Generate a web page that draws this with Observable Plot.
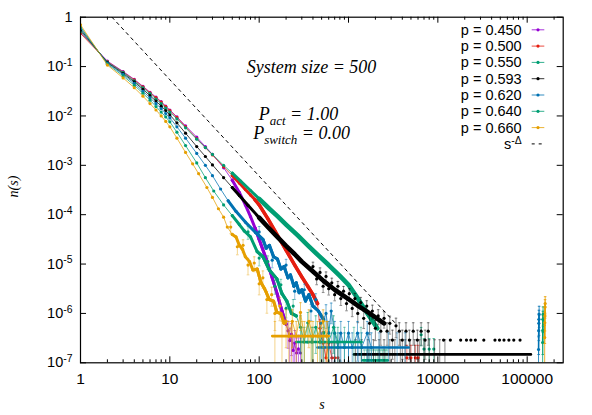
<!DOCTYPE html>
<html><head><meta charset="utf-8">
<script src="https://cdn.jsdelivr.net/npm/d3@7"></script>
<script src="https://cdn.jsdelivr.net/npm/@observablehq/plot@0.6"></script>
<style>body{margin:0;background:#fff;} #chart{width:592px;height:415px;}</style>
</head><body><div id="chart"></div>
<script>
// ---------- series labels & colours ----------
const labels = ["p = 0.450", "p = 0.500", "p = 0.550", "p = 0.593", "p = 0.620", "p = 0.640", "p = 0.660"];
const colors = ["#9400d3", "#e51e10", "#009e73", "#000000", "#0072b2", "#009e73", "#e69f00"];

// ---------- p = 0.450 ----------
const p450_s = [1,2,3,4,5,6,7,8,9,10,12,15,20,25,30,40,50,60,70,80,90,100,120,140,160,180,200];
const p450_n = [0.50,0.129,0.0794,0.055,0.0398,0.0302,0.024,0.0195,0.0158,0.0132,0.00955,0.00631,0.00372,0.0024,0.00166,8.91e-4,5.01e-4,2.82e-4,1.58e-4,9.12e-5,5.37e-5,3.16e-5,1.26e-5,5.25e-6,2.40e-6,1.12e-6,6.03e-7];
const p450_ts = [210,220,230,240,250,262,275,290];
const p450_tn = [4.47e-7,2.82e-7,3.80e-7,1.78e-7,2.51e-7,1.58e-7,1.91e-7,1.58e-7];
const p450_te = [2.5e-7,2.2e-7,2.4e-7,1.6e-7,2.0e-7,1.6e-7,1.7e-7,1.6e-7];

// ---------- p = 0.500 ----------
const p500_s = [1,2,3,4,5,6,7,8,9,10,12,15,20,25,30,40,50,60,70,80,90,100,125,150,200,250,300,350,400,450];
const p500_n = [0.47,0.126,0.0776,0.0537,0.0389,0.0295,0.0234,0.0191,0.0155,0.0129,0.00933,0.00603,0.00347,0.00229,0.00162,9.33e-4,6.17e-4,4.37e-4,3.24e-4,2.51e-4,2.0e-4,1.58e-4,8.32e-5,4.68e-5,1.91e-5,9.55e-6,5.50e-6,3.55e-6,2.40e-6,1.58e-6];
const p500_ts = [480,520,560,600,650,700,760];
const p500_tn = [5.0e-7,2.51e-7,1.26e-7,2.51e-7,1.26e-7,1.26e-7,1.26e-7];
const p500_te = [2.5e-7,1.8e-7,1.26e-7,1.8e-7,1.26e-7,1.26e-7,1.26e-7];
const p500_is = [4500,5000,5600,6000];
const p500_in = [1.26e-7,1.26e-7,1.26e-7,1.26e-7];
const p500_ie = [1.0e-7,1.0e-7,1.0e-7,1.0e-7];

// ---------- p = 0.550 ----------
const p550_s = [1,2,3,4,5,6,7,8,9,10,12,15,20,25,30,40,50,62,80,100,130,160,200,270,350,450,600,800,1000,1250,1500,1800,2100];
const p550_n = [0.52,0.123,0.0759,0.0513,0.0372,0.0282,0.0219,0.0178,0.0145,0.0120,0.00871,0.00575,0.00339,0.00229,0.00166,1.0e-3,6.92e-4,4.79e-4,3.09e-4,2.09e-4,1.32e-4,9.33e-5,6.31e-5,3.80e-5,2.40e-5,1.55e-5,9.55e-6,5.75e-6,3.80e-6,2.09e-6,1.26e-6,7.59e-7,5.01e-7];
const p550_floor = [1450, 2750];
const p550_floorN = 1.12e-7;
const p550_floorBars = [1500,1600,1700,1800,1900,2000,2100,2200,2300,2400,2500,2600,2700];
const p550_floorErr = 0.7e-7;
const p550_is = [6500,7000,8000,9000];
const p550_in = [3.7e-7,1.9e-7,1.9e-7,1.9e-7];
const p550_ie = [1.5e-7,1.2e-7,1.2e-7,1.2e-7];

// ---------- p = 0.593 ----------
const p593_s = [1,2,3,4,5,6,7,8,9,10,12,15,20,25,30,40,50,60,75,100,125,150,200,250,300,400,525,700,1000,1260,1600,2000,2500];
const p593_n = [0.56,0.120,0.0724,0.0490,0.0347,0.0257,0.020,0.0158,0.0129,0.0105,0.00724,0.00447,0.0024,0.00151,0.00102,5.62e-4,3.55e-4,2.45e-4,1.55e-4,8.71e-5,5.62e-5,3.98e-5,2.34e-5,1.58e-5,1.12e-5,7.08e-6,4.57e-6,3.02e-6,1.95e-6,1.45e-6,1.1e-6,8.3e-7,6.3e-7];
const p593_ss = [400,440,480,520,560,600,650,700,760,820,880,950,1020,1100,1180,1270,1370,1480,1600,1720,1850,2000,2150,2300,2500,2700,2900,3100,3400,3700,4000,4400,4800,5300,5900,6500,7200,7800];
const p593_sn = [8.91e-6,5.01e-6,6.76e-6,3.55e-6,5.62e-6,3.16e-6,4.17e-6,2.40e-6,3.55e-6,2.0e-6,2.82e-6,1.58e-6,2.51e-6,1.26e-6,2.0e-6,1.0e-6,1.66e-6,7.94e-7,1.41e-6,6.31e-7,1.12e-6,5.01e-7,8.91e-7,4.37e-7,7.94e-7,4.37e-7,6.31e-7,2.88e-7,5.62e-7,4.37e-7,2.88e-7,4.37e-7,2.88e-7,4.37e-7,2.88e-7,4.37e-7,2.88e-7,4.37e-7];
const p593_se = [2e-6,1.2e-6,1.6e-6,9e-7,1.3e-6,8e-7,1e-6,6e-7,9e-7,5.5e-7,7e-7,4.5e-7,6.5e-7,4e-7,5.5e-7,3.5e-7,4.5e-7,3e-7,4e-7,2.6e-7,3.5e-7,2.2e-7,3e-7,2.1e-7,2.9e-7,2.1e-7,2.5e-7,1.7e-7,2.4e-7,2.1e-7,1.7e-7,2.1e-7,1.7e-7,2.1e-7,1.7e-7,2.1e-7,1.7e-7,2.1e-7];
const p593_floor = [1150, 110000];
const p593_floorN = 1.48e-7;
const p593_floorBars = [1200,1400,1650,1900,2200,2500,2900,3300,3800,4300,4900,5500,6200,7000,8000,9200,10500,12000];
const p593_floorErr = 1.45e-7;
const p593_is = [11600,13800,18000,20900,23400,26300,32700,43600,49000,55000,62400,70800,83200];
const p593_in = [2.88e-7,2.88e-7,2.88e-7,2.88e-7,2.88e-7,2.88e-7,2.88e-7,2.88e-7,2.88e-7,2.88e-7,2.88e-7,2.88e-7,2.88e-7];

// ---------- p = 0.620 ----------
const p620_s = [1,2,3,4,5,6,7,8,9,10,12,15,20,25,30,37,45,55,70,91,110,120,130,145,160,175,190,210,224,245,260,280,300,330,360,400,460,525];
const p620_n = [0.60,0.117,0.0692,0.0457,0.0316,0.0234,0.0178,0.0141,0.0112,0.00912,0.00603,0.00355,0.00174,0.0010,6.17e-4,3.31e-4,1.91e-4,1.17e-4,7.08e-5,4.37e-5,3.16e-5,2.09e-5,2.40e-5,1.41e-5,1.26e-5,7.94e-6,8.91e-6,5.25e-6,6.03e-6,3.55e-6,4.17e-6,2.63e-6,3.02e-6,1.78e-6,2.40e-6,1.41e-6,1.12e-6,7.59e-7];
const p620_ss = [100,140,200,250,320,380,430,490];
const p620_sn = [4.47e-5,1.2e-5,9.55e-6,2.82e-6,3.02e-6,1.12e-6,1.91e-6,6.31e-7];
const p620_se = [1.3e-5,3.6e-6,2.9e-6,9e-7,9e-7,4e-7,6e-7,2.5e-7];
const p620_ts = [560,600,640,700,760,820,900,1000,1100,1260,1400,1620,1800];
const p620_tn = [1.0e-6,3.98e-7,1.12e-6,3.98e-7,2.04e-7,3.98e-7,2.04e-7,3.98e-7,2.04e-7,3.98e-7,2.04e-7,3.98e-7,2.04e-7];
const p620_te = [5e-7,2.9e-7,5e-7,2.9e-7,2.0e-7,2.9e-7,2.0e-7,2.9e-7,2.0e-7,2.9e-7,2.0e-7,2.9e-7,2.0e-7];
const p620_floor = [450, 4700];
const p620_floorN = 2.04e-7;
const p620_floorBars = [500,650,800,1000,1300,1700,2200,2800,3500,4300];
const p620_floorErr = 2.0e-7;
const p620_gs = [134000,134500,135000,135500,136000];
const p620_gn = [1.86e-7,4.47e-7,6.31e-7,7.59e-7,9.55e-7];
const p620_ge = [1.5e-7,3e-7,3.5e-7,4e-7,4.4e-7];

// ---------- p = 0.640 ----------
const p640_s = [1,2,3,4,5,6,7,8,9,10,12,15,20,25,31,40,50,60,68,80,95,110,130,158,180,204,230,260];
const p640_n = [0.64,0.112,0.0646,0.0417,0.0288,0.0209,0.0155,0.0120,0.00955,0.00759,0.00468,0.00251,0.00112,5.62e-4,3.02e-4,1.58e-4,9.55e-5,6.31e-5,4.68e-5,3.55e-5,1.78e-5,1.41e-5,7.59e-6,5.01e-6,2.51e-6,1.78e-6,1.0e-6,8.91e-7];
const p640_ss = [75,100,125,150,175,200,240];
const p640_sn = [4.47e-5,1.32e-5,1.12e-5,3.55e-6,3.80e-6,1.26e-6,1.41e-6];
const p640_se = [1.3e-5,4e-6,3.4e-6,1.1e-6,1.1e-6,4.5e-7,5e-7];
const p640_ts = [290,320,350,390,430,480,530,600,680,760];
const p640_tn = [5.25e-7,2.63e-7,6.46e-7,2.63e-7,5.25e-7,2.63e-7,4.07e-7,2.63e-7,5.25e-7,2.63e-7];
const p640_te = [3.7e-7,2.6e-7,4e-7,2.6e-7,3.7e-7,2.6e-7,3.2e-7,2.6e-7,3.7e-7,2.6e-7];
const p640_floor = [260, 1400];
const p640_floorN = 2.63e-7;
const p640_floorBars = [300,400,520,700,900,1150,1380];
const p640_floorErr = 2.6e-7;
const p640_gs = [149000,149500,150000,150500];
const p640_gn = [2.57e-7,4.47e-7,7.59e-7,9.55e-7];
const p640_ge = [2e-7,3e-7,3.5e-7,4e-7];

// ---------- p = 0.660 ----------
const p660_s = [1,2,3,4,5,6,7,8,9,10,12,15,18,21,26,30,35,40,44,50,55,60,65,70,78,85,95,105,115,130,145,158,175,190];
const p660_n = [0.70,0.107,0.0589,0.0372,0.0251,0.0178,0.0132,0.0100,0.00776,0.00603,0.00355,0.00182,0.00107,6.76e-4,3.55e-4,2.24e-4,1.32e-4,8.91e-5,5.62e-5,3.98e-5,3.55e-5,2.40e-5,2.0e-5,1.41e-5,1.12e-5,7.59e-6,7.94e-6,4.17e-6,3.16e-6,1.91e-6,1.78e-6,1.05e-6,1.0e-6,6.31e-7];
const p660_ss = [48,57,66,75,88,100,110,122,138,150,170];
const p660_sn = [5.62e-5,2.24e-5,2.40e-5,9.55e-6,1.05e-5,3.98e-6,5.25e-6,1.91e-6,2.40e-6,1.0e-6,1.41e-6];
const p660_se = [1.5e-5,7e-6,7e-6,3.5e-6,3.5e-6,1.6e-6,2e-6,9e-7,1e-6,5.5e-7,7e-7];
const p660_ts = [200,215,235,260,290,320,360,400,450,520,570];
const p660_tn = [6.92e-7,3.47e-7,6.92e-7,3.47e-7,1.05e-6,3.47e-7,6.92e-7,3.47e-7,3.47e-7,6.92e-7,3.47e-7];
const p660_te = [4.9e-7,3.4e-7,4.9e-7,3.4e-7,6e-7,3.4e-7,4.9e-7,3.4e-7,3.4e-7,4.9e-7,3.4e-7];
const p660_floor = [140, 600];
const p660_floorN = 3.47e-7;
const p660_floorBars = [150,180,230,300,380,480,580];
const p660_floorErr = 3.4e-7;
const p660_gs = [157000,157500,158000,158500,159000];
const p660_gn = [3.24e-7,6.46e-7,8.91e-7,1.35e-6,1.58e-6];
const p660_ge = [2.5e-7,4e-7,4.5e-7,5.5e-7,6e-7];

// ---------- reference line s^-Δ ----------
const dash_s = [2.25, 3300];
const dash_n = [1.0, 6.5e-7];

// ---------- axis ticks ----------
const xTicks = [1, 10, 100, 1000, 10000, 100000];
const yTicks = [1, 1e-1, 1e-2, 1e-3, 1e-4, 1e-5, 1e-6, 1e-7];

// ---------- build tables ----------
const rows = (s, n, e) => s ? s.map((v, i) => ({s: v, n: n[i], e: e ? e[i] : 0})) : [];
const floorRows = (f, level) => f ? [{s: f[0], n: level}, {s: f[1], n: level}] : [];
const barRows = (b, level, err) => b ? b.map(v => ({s: v, n: level, e: err})) : [];

const series = [
  {main: rows(p450_s, p450_n), tail: rows(p450_ts, p450_tn, p450_te)},
  {main: rows(p500_s, p500_n), tail: rows(p500_ts, p500_tn, p500_te), iso: rows(p500_is, p500_in, p500_ie)},
  {main: rows(p550_s, p550_n), floor: floorRows(p550_floor, p550_floorN), bars: barRows(p550_floorBars, p550_floorN, p550_floorErr), iso: rows(p550_is, p550_in, p550_ie)},
  {main: rows(p593_s, p593_n), scat: rows(p593_ss, p593_sn, p593_se), floor: floorRows(p593_floor, p593_floorN), bars: barRows(p593_floorBars, p593_floorN, p593_floorErr), iso: rows(p593_is, p593_in)},
  {main: rows(p620_s, p620_n), scat: rows(p620_ss, p620_sn, p620_se), tail: rows(p620_ts, p620_tn, p620_te), floor: floorRows(p620_floor, p620_floorN), bars: barRows(p620_floorBars, p620_floorN, p620_floorErr), giant: rows(p620_gs, p620_gn, p620_ge)},
  {main: rows(p640_s, p640_n), scat: rows(p640_ss, p640_sn, p640_se), tail: rows(p640_ts, p640_tn, p640_te), floor: floorRows(p640_floor, p640_floorN), bars: barRows(p640_floorBars, p640_floorN, p640_floorErr), giant: rows(p640_gs, p640_gn, p640_ge)},
  {main: rows(p660_s, p660_n), scat: rows(p660_ss, p660_sn, p660_se), tail: rows(p660_ts, p660_tn, p660_te), floor: floorRows(p660_floor, p660_floorN), bars: barRows(p660_floorBars, p660_floorN, p660_floorErr), giant: rows(p660_gs, p660_gn, p660_ge)}
];
// band thickness of the dense part of each curve (style only)
const bandWidth = [3, 3.6, 4.6, 4.6, 3, 3, 3];

const W = 592, H = 415, ML = 80, MR = 29.3, MT = 16.7, MB = 52.7;
const IW = W - ML - MR, IH = H - MT - MB;
const xMinor = [];
for (let e = 0; e <= 5; e++) for (let k = 2; k <= 9; k++) { const v = k * 10 ** e; if (v < 253000) xMinor.push(v); }

const lo = d => Math.max(d.n - d.e, 1e-9);
const hi = d => d.n + d.e;
function errMarks(data, color, op) {
  const d = (data || []).filter(r => r.e > 0);
  return [
    Plot.ruleX(d, {x: "s", y1: lo, y2: hi, stroke: color, strokeWidth: 1, strokeOpacity: op, clip: true}),
    Plot.link(d, {x1: r => r.s / 1.035, x2: r => r.s * 1.035, y1: hi, y2: hi, stroke: color, strokeOpacity: op, clip: true}),
    Plot.link(d.filter(r => r.n - r.e > 0), {x1: r => r.s / 1.035, x2: r => r.s * 1.035, y1: lo, y2: lo, stroke: color, strokeOpacity: op, clip: true})
  ];
}
const dots = (data, c) => Plot.dot(data || [], {x: "s", y: "n", r: 1.6, fill: c, stroke: "none", clip: true});

const marks = [];
series.forEach((S, i) => {
  const c = colors[i];
  const tail = S.tail || [];
  const path = S.main.concat(tail).sort((a, b) => a.s - b.s);
  marks.push(...errMarks(S.bars, c, 0.45));
  marks.push(...errMarks(tail, c, 0.55));
  marks.push(...errMarks(S.scat, c, 0.45));
  marks.push(...errMarks(S.iso, c, 0.55));
  marks.push(...errMarks(S.giant, c, 0.8));
  marks.push(Plot.line(path, {x: "s", y: "n", stroke: c, strokeWidth: 1, strokeOpacity: 0.75, clip: true}));
  marks.push(Plot.line(S.main.filter(r => r.s >= 45), {x: "s", y: "n", stroke: c, strokeWidth: 3, clip: true}));
  marks.push(Plot.line(S.main.filter(r => r.s >= 90), {x: "s", y: "n", stroke: c, strokeWidth: bandWidth[i], clip: true}));
  marks.push(dots(path, c));
  marks.push(dots(S.scat, c));
  if (S.floor) marks.push(Plot.line(S.floor, {x: "s", y: "n", stroke: c, strokeWidth: 2.6, clip: true}));
  marks.push(dots(S.iso, c));
  if (S.giant) {
    marks.push(Plot.line(S.giant, {x: "s", y: "n", stroke: c, strokeWidth: 1.5, clip: true}));
    marks.push(dots(S.giant, c));
  }
});
marks.push(Plot.line(rows(dash_s, dash_n), {x: "s", y: "n", stroke: "black", strokeWidth: 1, strokeDasharray: "3,4", clip: true}));

const serif = "Liberation Serif, Times New Roman, serif";
const plot = Plot.plot({
  width: W, height: H,
  marginLeft: ML, marginRight: MR, marginTop: MT, marginBottom: MB,
  style: {fontFamily: "Liberation Sans, Arial, sans-serif", fontSize: "14.5px", background: "white", color: "black"},
  x: {type: "log", domain: [1, 253000]},
  y: {type: "log", domain: [1e-7, 1]},
  marks: [
    ...marks,
    Plot.ruleX(xTicks, {x: d => d, insetTop: IH - 6, stroke: "black"}),
    Plot.ruleX(xTicks, {x: d => d, insetBottom: IH - 6, stroke: "black"}),
    Plot.ruleX(xMinor, {x: d => d, insetTop: IH - 3, stroke: "black"}),
    Plot.ruleX(xMinor, {x: d => d, insetBottom: IH - 3, stroke: "black"}),
    Plot.ruleY(yTicks, {y: d => d, insetRight: IW - 6, stroke: "black"}),
    Plot.ruleY(yTicks, {y: d => d, insetLeft: IW - 6, stroke: "black"}),
    Plot.axisX(xTicks, {tickSize: 0, tickPadding: 10, fontSize: 15.5, tickFormat: d => String(d), label: null}),
    Plot.axisY(yTicks, {tickSize: 0, tickPadding: 8, fontSize: 14.5, label: null,
      tickFormat: d => d === 1 ? "1" : `10^{${Math.round(Math.log10(d))}}`}),
    Plot.frame({stroke: "black", strokeWidth: 1.2}),
    Plot.text(["s"], {frameAnchor: "bottom", dy: 41.7, fontFamily: serif, fontStyle: "italic", fontSize: 14, lineAnchor: "middle", textAnchor: "middle"}),
    Plot.text(["n(s)"], {frameAnchor: "left", dx: -67, dy: -3.5, rotate: -90, fontFamily: serif, fontStyle: "italic", fontSize: 14, lineAnchor: "middle", textAnchor: "middle"}),
    Plot.text(["System size = 500"], {frameAnchor: "top-left", dx: 231, dy: 50, textAnchor: "middle", fontFamily: serif, fontStyle: "italic", fontSize: 18, lineAnchor: "middle"}),
    Plot.text(["P_{act} = 1.00"], {frameAnchor: "top-left", dx: 218, dy: 97, textAnchor: "middle", fontFamily: serif, fontStyle: "italic", fontSize: 18, lineAnchor: "middle"}),
    Plot.text(["P_{switch} = 0.00"], {frameAnchor: "top-left", dx: 221, dy: 116, textAnchor: "middle", fontFamily: serif, fontStyle: "italic", fontSize: 18, lineAnchor: "middle"})
  ]
});

// ---------- legend ----------
const svg = d3.select(plot);
const L = svg.append("g").attr("font-family", "Liberation Sans, Arial, sans-serif").attr("font-size", 14.5);
const legendLabels = labels.concat(["s^{-Δ}"]);
legendLabels.forEach((lab, i) => {
  const y = 29.8 + 16.3 * i;
  L.append("text").attr("x", 521.7).attr("y", y).attr("dy", "0.35em").attr("text-anchor", "end").attr("fill", "black").text(lab);
  if (i < labels.length) {
    L.append("line").attr("x1", 531.7).attr("x2", 544.3).attr("y1", y).attr("y2", y).attr("stroke", colors[i]).attr("stroke-opacity", 0.8);
    L.append("circle").attr("cx", 538).attr("cy", y).attr("r", 1.6).attr("fill", colors[i]);
  } else {
    L.append("line").attr("x1", 531.7).attr("x2", 544.3).attr("y1", y).attr("y2", y).attr("stroke", "black").attr("stroke-dasharray", "3,4");
  }
});

// ---------- rich text: ^{..} superscript, _{..} subscript ----------
function richify(root) {
  root.querySelectorAll("text").forEach(t => {
    const str = t.textContent;
    if (!/[\^_]\{/.test(str) || t.querySelector("tspan")) return;
    t.textContent = "";
    const re = /([\^_])\{([^}]*)\}/g;
    let last = 0, m, shift = 0;
    const add = (txt, kind) => {
      const ts = document.createElementNS("http://www.w3.org/2000/svg", "tspan");
      ts.textContent = txt;
      const target = kind === "sup" ? -0.36 : kind === "sub" ? 0.28 : 0;
      const scale = kind ? 0.72 : 1;
      if (kind) ts.style.fontSize = "0.72em";
      const delta = target - shift;
      if (Math.abs(delta) > 1e-9) ts.setAttribute("dy", (delta / scale).toFixed(3) + "em");
      shift = target;
      t.appendChild(ts);
    };
    while ((m = re.exec(str))) {
      if (m.index > last) add(str.slice(last, m.index), null);
      add(m[2], m[1] === "^" ? "sup" : "sub");
      last = re.lastIndex;
    }
    if (last < str.length) add(str.slice(last), null);
  });
}
richify(plot);
document.getElementById("chart").appendChild(plot);
</script>
</body></html>
